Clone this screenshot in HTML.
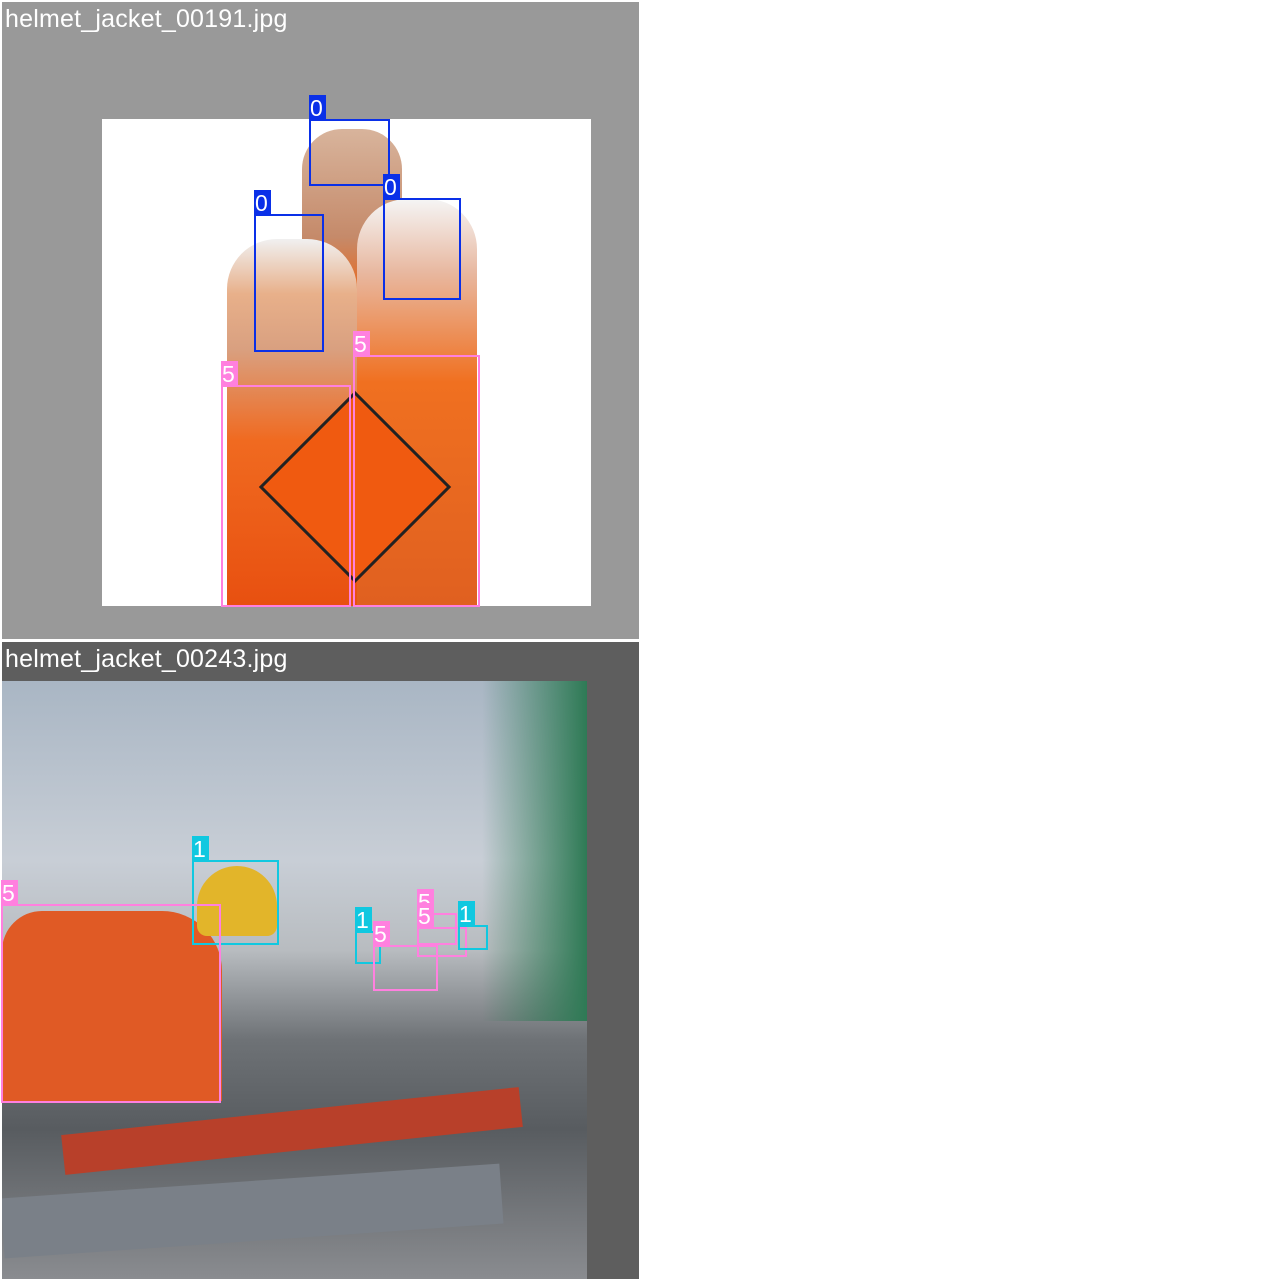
<!DOCTYPE html>
<html><head><meta charset="utf-8"><style>
body{margin:0;width:1280px;height:1280px;background:#fff;position:relative;overflow:hidden;font-family:"Liberation Sans",sans-serif}
.abs{position:absolute}
.title{position:absolute;color:#fff;font-size:25px;left:5px;letter-spacing:0.2px}
</style></head><body>
<div class="abs" style="left:2px;top:2px;width:637px;height:637px;background:#999"></div>
<div class="abs" style="left:102px;top:119px;width:489px;height:487px;background:#fff;overflow:hidden">
 <div class="abs" style="left:200px;top:10px;width:100px;height:270px;background:linear-gradient(#d8b49c,#c58a6a 40%,#e86a20 60%,#ee5a10);border-radius:40px 40px 0 0"></div>
 <div class="abs" style="left:125px;top:120px;width:130px;height:367px;background:linear-gradient(#f0f0f0 0,#e8b08a 15%,#d9a080 30%,#f06a20 55%,#e85010 100%);border-radius:50px 50px 0 0"></div>
 <div class="abs" style="left:255px;top:80px;width:120px;height:407px;background:linear-gradient(#f5f5f5 0,#e8b8a0 18%,#f07020 45%,#e06020 100%);border-radius:50px 50px 0 0"></div>
 <div class="abs" style="left:185px;top:300px;width:130px;height:130px;background:#f05a10;transform:rotate(45deg);border:3px solid #222"></div>
</div>
<div class="title" style="top:5px">helmet_jacket_00191.jpg</div>

<div class="abs" style="left:2px;top:642px;width:637px;height:637px;background:#5e5e5e"></div>
<div class="abs" style="left:2px;top:681px;width:585px;height:598px;overflow:hidden;background:linear-gradient(#a9b6c4 0,#c8ced6 30%,#b8bcc0 45%,#6e7276 60%,#585c60 75%,#8a8c90 100%)">
 <div class="abs" style="left:480px;top:0;width:105px;height:340px;background:linear-gradient(90deg,rgba(40,120,80,0) ,#2e7a55);"></div>
 <div class="abs" style="left:0;top:230px;width:220px;height:190px;background:#e05a25;border-radius:40px 60px 0 0"></div>
 <div class="abs" style="left:195px;top:185px;width:80px;height:70px;background:#e2b52a;border-radius:40px 40px 10px 10px"></div>
 <div class="abs" style="left:60px;top:430px;width:460px;height:40px;background:#b8402a;transform:rotate(-6deg)"></div>
 <div class="abs" style="left:0;top:500px;width:500px;height:60px;background:#7a8088;transform:rotate(-4deg)"></div>
</div>
<div class="title" style="top:645px">helmet_jacket_00243.jpg</div>

<div id="boxes"></div>
<script>
const colors={0:"#0a30e8",1:"#10c8e0",5:"#ff80df"};
const boxClasses=[0,0,0,5,5,1,5,1,5,5,5,1];
const boxX1=[309,254,383,221,353,192,1,355,373,417,417,458];
const boxY1=[119,214,198,385,355,860,904,931,945,913,927,925];
const boxX2=[388,322,459,349,478,277,219,379,436,455,465,486];
const boxY2=[184,350,298,605,605,943,1101,962,989,943,955,948];
const root=document.getElementById('boxes');
for(let i=0;i<boxClasses.length;i++){
 const c=colors[boxClasses[i]];
 const b=document.createElement('div');
 
 
 b.style.cssText=`position:absolute;left:${boxX1[i]}px;top:${boxY1[i]}px;width:${boxX2[i]-boxX1[i]-2}px;height:${boxY2[i]-boxY1[i]-2}px;border:2px solid ${c}`;
 root.appendChild(b);
 const l=document.createElement('div');
 
 
 l.textContent=boxClasses[i];
 l.style.cssText=`position:absolute;left:${boxX1[i]}px;top:${boxY1[i]-24}px;width:16px;height:24px;background:${c};color:#fff;font-size:23px;line-height:26px;padding-left:1px`;
 root.appendChild(l);
}
</script>
</body></html>
